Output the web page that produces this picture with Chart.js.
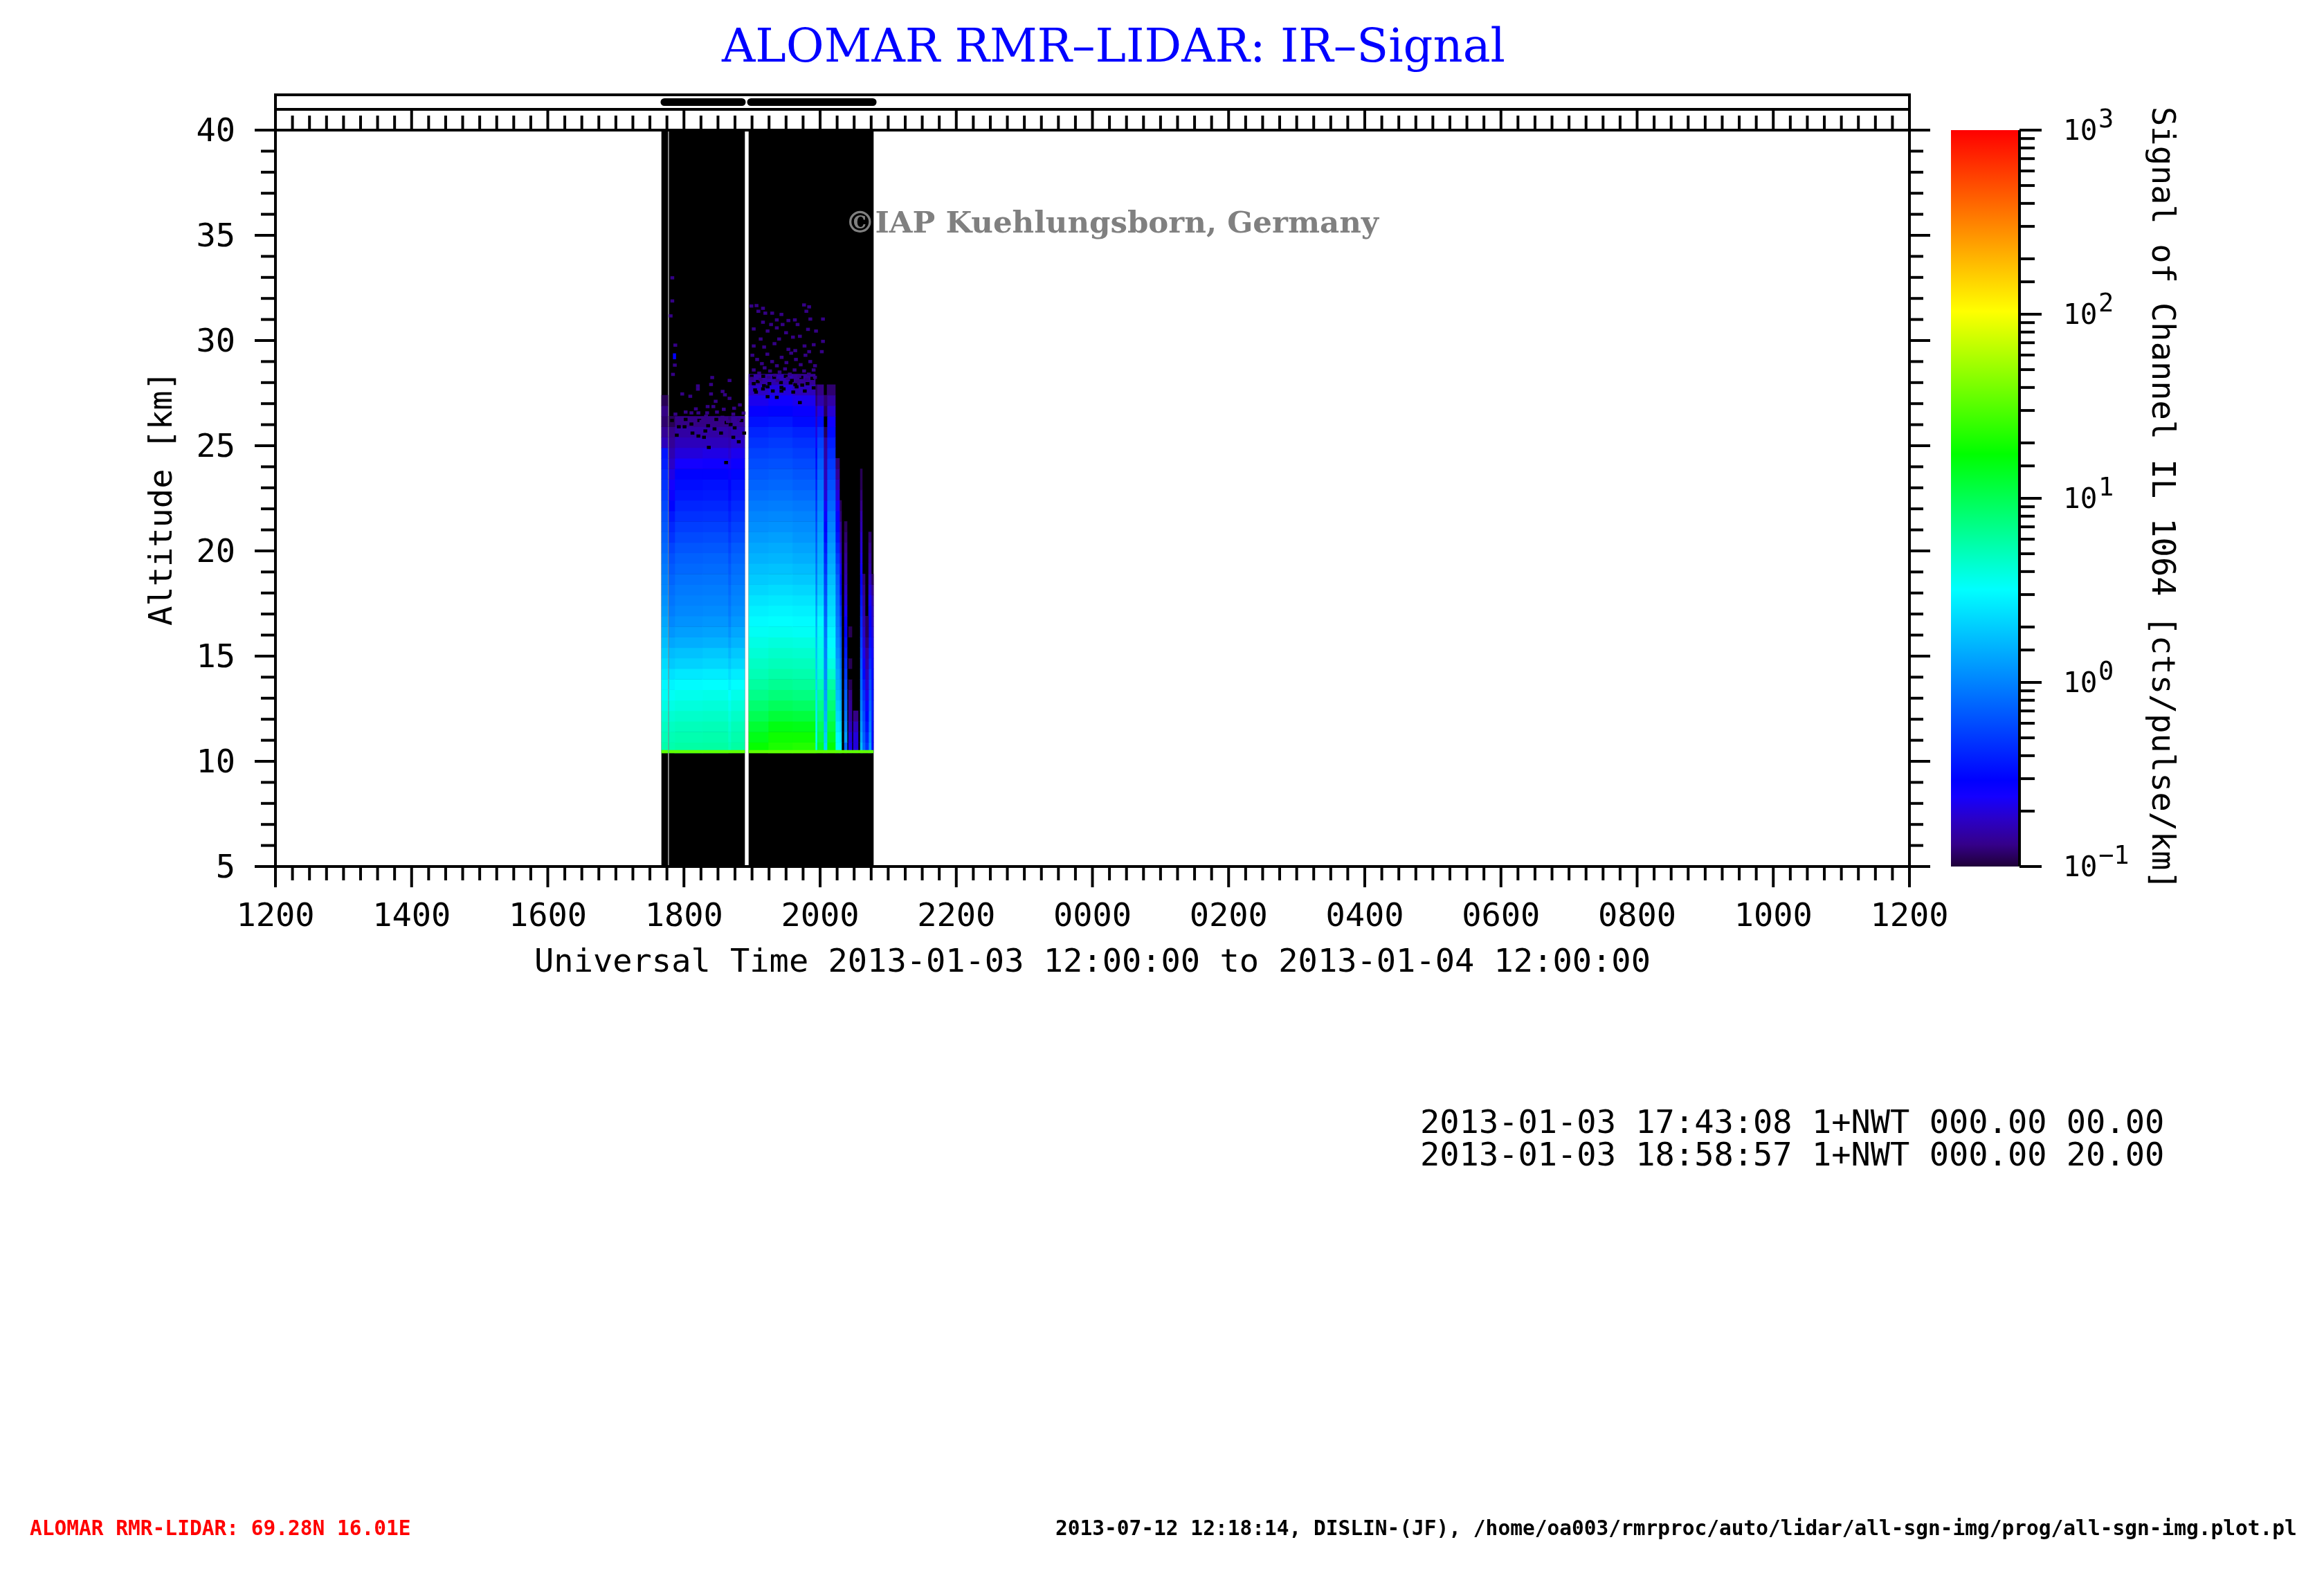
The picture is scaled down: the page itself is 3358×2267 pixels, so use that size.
<!DOCTYPE html>
<html>
<head>
<meta charset="utf-8">
<title>ALOMAR RMR-LIDAR: IR-Signal</title>
<script src="https://cdn.jsdelivr.net/npm/chart.js@4"></script>
<style>
  html, body { margin: 0; padding: 0; background: #fff; }
  #wrap { position: relative; width: 3358px; height: 2267px; }
  canvas { position: absolute; top: 0; display: block; }
</style>
</head>
<body>
<div id="wrap">
  <canvas id="mainChart" width="3358" height="2267" style="left:0"></canvas>
  <canvas id="barChart" width="568" height="2267" style="left:2790px"></canvas>
</div>
<script>
// tick labels
const timeTickLabels = ['1200','1400','1600','1800','2000','2200','0000','0200','0400','0600','0800','1000','1200'];
const colourExponents = ['\u22121','0','1','2','3'];

// altitude of each data row [km], lowest first
const altRows = [10.65,11.15,11.65,12.15,12.65,13.15,13.65,14.15,14.65,15.15,15.65,16.15,16.65,17.15,17.65,18.15,18.65,19.15,19.65,20.15,20.65,21.15,21.65,22.15,22.65,23.15,23.65,24.15,24.65,25.15,25.65,26.15,26.65,27.15,27.65,28.15,28.65,29.15,29.65,30.15,30.65,31.15,31.65,32.15];

// time columns [hours after 00 UT of 2013-01-03]
const columnStart = [17.672,17.781,17.865,18.272,18.648,18.689,18.953,19.238,19.593,19.929,19.954,20.051,20.102,20.224,20.285,20.356,20.417,20.488,20.590,20.620,20.661,20.712,20.752];
const columnEnd   = [17.765,17.865,18.272,18.648,18.689,18.892,19.238,19.593,19.929,19.954,20.051,20.102,20.224,20.285,20.315,20.397,20.468,20.559,20.620,20.661,20.712,20.752,20.783];

// signal per column, from the lowest row upwards [cts/pulse/km]
const sigL0 = [5.6,5.2,4.8,4.3,3.8,3.4,3,2.6,2.3,2,1.75,1.55,1.4,1.25,1.15,1.05,1,.92,.85,.78,.72,.67,.62,.57,.52,.47,.43,.38,.35,.17,.14,.12,.13,.11];
const sigL1 = [5.5,5.2,4.8,4.3,3.8,3.4,2.9,2.4,1.95,1.7,1.4,1.2,1.05,.95,.88,.82,.75,.68,.62,.55,.47,.42,.36,.3,.26,.24,.21,.18,.16,.14,.13,.11];
const sigL2 = [5.8,5.4,5,4.5,4,3.6,3.1,2.6,2.1,1.8,1.5,1.3,1.15,1.05,.98,.92,.85,.78,.72,.65,.58,.52,.46,.41,.36,.33,.3,.24,.2,.17,.15,.13];
const sigL3 = [5.9,5.5,5.1,4.6,4.1,3.7,3.2,2.7,2.2,1.9,1.55,1.35,1.2,1.08,1,.94,.87,.8,.74,.66,.6,.53,.47,.42,.37,.34,.3,.25,.21,.17,.15,.13];
const sigL4 = [5.2,4.8,4.4,4,3.6,3.2,2.8,2.3,1.9,1.6,1.35,1.15,1,.92,.86,.8,.74,.68,.62,.56,.5,.45,.4,.36,.32,.3,.27,.22,.19,.16,.14,.12];
const sigL5 = [5.9,5.5,5.1,4.6,4.1,3.7,3.2,2.7,2.2,1.9,1.6,1.4,1.22,1.1,1.02,.96,.88,.82,.75,.68,.6,.54,.48,.43,.38,.35,.31,.26,.22,.18,.16,.14];
const sigR1 = [18,15,12.5,10,8.3,7,6,5.2,4.7,4.2,3.8,3.4,3.1,2.8,2.5,2.2,1.95,1.75,1.55,1.4,1.25,1.12,1.02,.92,.82,.74,.67,.6,.54,.47,.41,.34,.28,.22,.18,.15];
const sigR2 = [21,19,15.5,12,9.5,7.8,6.6,5.7,5,4.5,4,3.5,3.2,2.9,2.6,2.3,2,1.8,1.6,1.45,1.3,1.15,1.05,.95,.85,.77,.7,.62,.56,.5,.44,.36,.3,.25,.2,.16];
const sigR3 = [22,19,15,11.5,9,7.4,6.3,5.5,4.9,4.4,3.9,3.4,3.1,2.8,2.5,2.2,1.9,1.7,1.5,1.35,1.2,1.1,1,.9,.8,.72,.65,.58,.52,.46,.4,.32,.27,.22,.17,.14];
const sigC178 = [3.4,3.2,3,2.8,2.6,2.4,2.2,2,1.9,1.8,1.7,1.6,1.45,1.3,1.15,1,.92,.85,.77,.7,.64,.58,.52,.47,.42,.39,.35,.32,.29,.25,.21,.18,.15,.12,.11];
const sigC180 = [13,11,9.5,8,7,6.2,5.2,4.4,4,3.8,3.6,3.4,3.1,2.7,2.3,2,1.8,1.65,1.5,1.4,1.3,1.2,1.1,1,.92,.85,.78,.7,.62,.55,.45,.33,.22,.16,.13];
const sigC190 = [2.2,2,1.8,1.6,1.45,1.3,1.2,1.1,1.05,1,.95,.88,.8,.72,.66,.6,.55,.48,.42,.37,.32,.29,.26,.23,.2,.18,.17,.16,.15,.14,.11,0,.11,.12];
const sigC195 = [17,14,11.5,9.5,8,7,5.8,4.6,3.9,3.4,3.1,2.9,2.6,2.3,2.15,1.95,1.75,1.55,1.4,1.25,1.12,1,.9,.78,.7,.62,.56,.5,.44,.38,.32,.25,.19,.15,.12];
const sigC208 = [3.4,3,2.6,2.2,1.95,1.7,1.55,1.45,1.3,1.15,1.05,.98,.92,.85,.8,.75,.7,.6,.5,.42,.35,.31,.27,.23,.2,.17,.14,.12];
const sigC214 = [2.8,2.4,2,1.7,1.45,1.25,1.1,.95,.85,.75,.68,.6,.52,.45,.38,.32,.27,.23,.2,.17,.15,.14,.12,.11];
const sigC220 = [.8,1.25,1.05,.9,.8,.72,.6,.5,.44,.38,.34,.3,.27,.23,.2,.18,.16,.15,.14,.13,.12,.11];
const sigS1 = [.22,.2,.17,.15,.14,.13,.11,0,.11,0,0,.11];
const sigS2 = [.2,.2,.17,.13];
const sigC243 = [1.7,1.4,1.2,1.05,.95,.85,.78,.72,.66,.6,.54,.48,.44,.4,.36,.32,.28,.24,.21,.19,.18,.16,.15,.13,.12,.11,.11];
const sigC246 = [.78,.7,.63,.58,.52,.46,.38,.31,.26,.22,.2,.18,.16,.15,.14,.13,.12];
const sigC250 = [.46,.4,.34,.3,.26,.22,.19,.17,.15,.14,.12,.11,.11];
const sigC255 = [1.25,1.1,.95,.85,.75,.68,.6,.52,.44,.38,.34,.31,.29,.27,.24,.2,.17,.15,.14,.13,.12];
const sigC259 = [.3,.3,.32,.34,.36,.34,.31,.28,.26,.24,.22,.2,.18,.17,.15,.13,.11];
const signalColumns = [sigL0,sigL1,sigL2,sigL3,sigL4,sigL5,sigR1,sigR2,sigR3,sigC178,sigC180,sigC190,sigC195,sigC208,sigC214,sigC220,sigS1,sigS2,sigC243,sigC246,sigC250,sigC255,sigC259];

// measured blocks (black = below 0.1) and the record bars above the plot
const blockStart = [17.672,17.781,18.953];
const blockEnd   = [17.765,18.892,20.783];
const recordStart = [17.662,18.933];
const recordEnd   = [18.902,20.824];
const bottomGateSignal = 34;

// single weak detections above the noise edge
const weakTime = [18.966,19.041,19.136,19.068,19.170,19.271,19.739,19.814,19.773,19.407,20.017,19.831,19.509,19.604,19.339,19.136,19.255,19.424,19.644,19.915,19.797,19.339,19.000,19.204,19.475,19.678,19.576,19.373,19.102,19.305,19.000,19.153,19.509,19.610,19.746,19.814,20.017,19.881,20.000,17.804,17.804,17.780,17.848,17.841,17.814,18.390,18.645,18.180,18.373,18.180,17.950,18.373,18.068,18.543,18.577,18.645,18.441,18.323,18.407,18.085,18.187,18.316,18.560,18.712,18.797,
    18.98,19.05,19.12,19.2,19.27,19.34,19.41,19.48,19.55,19.62,19.69,19.76,19.83,19.9,19.0,19.08,19.16,19.24,19.31,19.38,19.46,19.53,19.6,19.67,19.74,19.81,19.88,18.97,19.1,19.22,19.35,19.5,19.64,19.78,19.9,
    17.85,17.93,18.0,18.08,18.15,18.23,18.3,18.38,18.46,18.54,18.62,18.7,18.78,18.85];
const weakAlt  = [31.64,31.66,31.53,31.39,31.30,31.30,31.69,31.60,31.39,31.24,31.02,31.02,30.95,30.98,30.98,30.87,30.76,30.76,30.76,30.45,30.53,30.60,30.55,30.45,30.37,30.20,30.16,30.07,30.07,29.85,29.74,29.69,29.58,29.52,29.74,29.47,29.96,29.80,29.47,32.98,31.88,31.17,29.78,28.83,28.39,28.24,28.10,27.84,27.91,27.69,27.46,27.46,27.35,27.58,27.42,27.25,27.11,26.86,26.86,26.56,26.56,26.56,26.73,26.78,26.94,
    29.3,29.1,28.9,29.35,29.0,28.8,29.2,28.95,29.4,29.1,28.85,29.3,29.0,28.8,28.6,28.45,28.7,28.55,28.35,28.5,28.65,28.4,28.6,28.3,28.55,28.4,28.6,28.2,28.15,28.25,28.1,28.2,28.05,28.15,28.25,
    26.5,26.2,26.6,26.3,26.75,26.15,26.4,26.25,26.6,26.35,26.15,26.5,26.25,26.55];
const strongTime = [17.841];
const strongAlt  = [29.25];
// gaps inside the noisy top of the profiles
const gapTime = [19,19.204,19.407,19.61,19.136,19.339,19.542,19.712,19.034,19.407,19.678,19.204,18.187,18.34,18.594,18.78,17.984,18.424,18.085,18.661,18.289,
    18.97,19.06,19.14,19.23,19.3,19.4,19.47,19.56,19.63,19.7,19.79,19.86,19.02,19.15,19.28,19.44,19.58,19.75,19.88,
    17.8,17.9,18.0,18.1,18.2,18.33,18.45,18.52,18.6,18.72,18.82,17.87,18.27,18.7,18.86];
const gapAlt  = [27.95,27.8,27.6,27.9,27.7,27.3,27.99,27.88,27.55,27.77,27.05,27.33,25.46,24.92,24.2,25.19,25.9,25.8,26.03,26.01,25.7,
    28.3,28.05,28.3,27.95,28.25,28.0,28.3,28.1,27.8,28.25,27.95,28.2,27.65,27.85,27.6,27.7,27.55,27.6,27.75,
    26.2,25.9,26.25,25.6,26.2,25.95,26.25,25.6,26.1,25.85,26.2,25.5,25.4,25.4,25.6];

// colour table: position on the log axis (0..1) and rgb
const colourPos = [0,.03,.065,.095,.117,.376,.56,.754,1];
const colourRgb = [[31,0,56],[53,0,138],[42,0,200],[20,0,255],[0,0,255],[0,255,255],[0,255,0],[255,255,0],[255,0,0]];

function signalColor(v) {
    if (v < 0.1) return '#000000';
    const f = Math.min(1, (Math.log10(v) + 1) / 4);
    let i = 0;
    while (i < colourPos.length - 2 && f > colourPos[i + 1]) i++;
    const t = (f - colourPos[i]) / (colourPos[i + 1] - colourPos[i]);
    const c = colourRgb[i].map((a, k) => Math.round(a + (colourRgb[i + 1][k] - a) * t));
    return 'rgb(' + c.join(',') + ')';
}

const MONO = '"DejaVu Sans Mono"';
const LABEL_FONT = { family: 'DejaVu Sans Mono', size: 47 };
Chart.defaults.color = '#000';
Chart.defaults.animation = false;

const datasets = [];
// black backing of each measured block
datasets.push({
    label: 'blocks', order: 3, barThickness: 1064,
    data: blockStart.map((s, i) => ({ x: [s, blockEnd[i]], y: 22.5 })),
    backgroundColor: '#000000'
});
signalColumns.forEach((vals, i) => {
    datasets.push({
        label: 'column ' + i, order: 2, barThickness: 15.2,
        data: vals.map((v, k) => ({ x: [columnStart[i], columnEnd[i]], y: altRows[k] })),
        backgroundColor: vals.map(signalColor)
    });
});
datasets.push({
    label: 'lowest gate', order: 1, barThickness: 4,
    data: blockStart.map((s, i) => ({ x: [s, blockEnd[i]], y: 10.46 })),
    backgroundColor: signalColor(bottomGateSignal)
});
datasets.push({
    label: 'gaps', order: 1, barThickness: 4,
    data: gapTime.map((t, i) => ({ x: [t, t + 0.05], y: gapAlt[i] })),
    backgroundColor: '#000000'
});
datasets.push({
    label: 'weak', order: 0, barThickness: 4,
    data: weakTime.map((t, i) => ({ x: [t, t + 0.05], y: weakAlt[i] })),
    backgroundColor: signalColor(0.13)
});
datasets.push({
    label: 'strong', order: 0, barThickness: 8,
    data: strongTime.map((t, i) => ({ x: [t, t + 0.04], y: strongAlt[i] })),
    backgroundColor: signalColor(0.29)
});

function drawTick(ctx, x0, y0, x1, y1) {
    ctx.beginPath();
    ctx.moveTo(x0, y0);
    ctx.lineTo(x1, y1);
    ctx.stroke();
}

const frameAndNotes = {
    id: 'frameAndNotes',
    afterDraw(chart) {
        const { ctx, chartArea: a, scales: { x, y } } = chart;
        ctx.save();
        ctx.strokeStyle = '#000';
        ctx.lineWidth = 4;
        // plot frame and the band above it
        ctx.strokeRect(a.left, a.top, a.right - a.left, a.bottom - a.top);
        drawTick(ctx, a.left, a.top, a.left, 135);
        drawTick(ctx, a.right, a.top, a.right, 135);
        drawTick(ctx, a.left, 137, a.right, 137);
        drawTick(ctx, a.left, 158, a.right, 158);
        x.ticks.forEach(t => {
            const px = x.getPixelForValue(t.value);
            const big = t.value % 2 === 0;
            drawTick(ctx, px, a.bottom, px, a.bottom + (big ? 30 : 20));
            drawTick(ctx, px, a.top, px, a.top - (big ? 30 : 21));
        });
        y.ticks.forEach(t => {
            const py = y.getPixelForValue(t.value);
            const big = t.value % 5 === 0;
            drawTick(ctx, a.left, py, a.left - (big ? 30 : 21), py);
            drawTick(ctx, a.right, py, a.right + (big ? 30 : 20), py);
        });
        // record bars
        ctx.lineWidth = 11;
        ctx.lineCap = 'round';
        recordStart.forEach((s, i) => {
            drawTick(ctx, x.getPixelForValue(s) + 5, 147.5, x.getPixelForValue(recordEnd[i]) - 5, 147.5);
        });
        // free text
        const note = (text, px, py, font, color, align) => {
            ctx.font = font;
            ctx.fillStyle = color;
            ctx.textAlign = align || 'left';
            ctx.textBaseline = 'middle';
            ctx.fillText(text, px, py);
        };
        note('ALOMAR RMR\u2013LIDAR: IR\u2013Signal', 1609, 72, '67px "DejaVu Serif"', '#0000ff', 'center');
        note('\u00a9IAP Kuehlungsborn, Germany', 1221, 325, 'bold 43.5px "DejaVu Serif"', '#808080');
        note('2013-01-03 17:43:08 1+NWT 000.00 00.00', 2052, 1625, '47px ' + MONO, '#000');
        note('2013-01-03 18:58:57 1+NWT 000.00 20.00', 2052, 1672, '47px ' + MONO, '#000');
        note('ALOMAR RMR-LIDAR: 69.28N 16.01E', 43, 2210, 'bold 29.5px ' + MONO, '#ff0000');
        note('2013-07-12 12:18:14, DISLIN-(JF), /home/oa003/rmrproc/auto/lidar/all-sgn-img/prog/all-sgn-img.plot.pl', 1525, 2210, 'bold 29.5px ' + MONO, '#000');
        ctx.restore();
    }
};

new Chart(document.getElementById('mainChart'), {
    type: 'bar',
    data: { datasets },
    options: {
        indexAxis: 'y',
        responsive: false,
        devicePixelRatio: 1,
        grouped: false,
        inflateAmount: 0.3,
        barPercentage: 1,
        categoryPercentage: 1,
        borderWidth: 0,
        events: [],
        layout: { padding: { left: 208, right: 599, top: 188, bottom: 847 } },
        plugins: { legend: { display: false }, tooltip: { enabled: false }, title: { display: false } },
        scales: {
            x: {
                type: 'linear', min: 12, max: 36, position: 'bottom',
                grid: { display: false, drawTicks: false },
                border: { display: false },
                ticks: {
                    stepSize: 0.25, autoSkip: false, maxRotation: 0, minRotation: 0,
                    padding: 46, font: LABEL_FONT,
                    callback: v => (v % 2 === 0 ? timeTickLabels[(v - 12) / 2] : '')
                },
                title: {
                    display: true, font: LABEL_FONT, padding: 0,
                    text: 'Universal Time 2013-01-03 12:00:00 to 2013-01-04 12:00:00'
                },
                afterFit(s) { s.height = 168; s.paddingLeft = 0; s.paddingRight = 0; }
            },
            y: {
                type: 'linear', min: 5, max: 40, position: 'left', offset: false,
                grid: { display: false, drawTicks: false, offset: false },
                border: { display: false },
                ticks: {
                    stepSize: 1, autoSkip: false, padding: 58, labelOffset: 4, font: LABEL_FONT,
                    callback: v => (v % 5 === 0 ? String(v) : '')
                },
                title: { display: true, text: 'Altitude [km]', font: LABEL_FONT, padding: 0 },
                afterFit(s) { s.width = 190; s.paddingTop = 0; s.paddingBottom = 0; }
            }
        }
    },
    plugins: [frameAndNotes]
});

const isDecade = v => Math.abs(Math.log10(v) - Math.round(Math.log10(v))) < 1e-6;

const colourAxisTicks = {
    id: 'colourAxisTicks',
    afterDraw(chart) {
        const { ctx, chartArea: a, scales: { y } } = chart;
        ctx.save();
        ctx.strokeStyle = '#000';
        ctx.lineWidth = 4;
        drawTick(ctx, a.right + 2, a.top, a.right + 2, a.bottom);
        y.ticks.forEach(t => {
            const py = y.getPixelForValue(t.value);
            drawTick(ctx, a.right + 2, py, a.right + (isDecade(t.value) ? 34 : 24), py);
            if (isDecade(t.value)) {
                ctx.font = '37px ' + MONO;
                ctx.fillStyle = '#000';
                ctx.textAlign = 'left';
                ctx.textBaseline = 'middle';
                ctx.fillText(colourExponents[Math.round(Math.log10(t.value)) + 1], a.right + 116, py - 14);
            }
        });
        ctx.restore();
    }
};

new Chart(document.getElementById('barChart'), {
    type: 'bar',
    data: {
        labels: ['signal'],
        datasets: [{
            data: [[0.1, 1000]],
            backgroundColor(c) {
                const a = c.chart.chartArea;
                if (!a) return '#000';
                const g = c.chart.ctx.createLinearGradient(0, a.bottom, 0, a.top);
                colourPos.forEach((p, i) => g.addColorStop(p, 'rgb(' + colourRgb[i].join(',') + ')'));
                return g;
            }
        }]
    },
    options: {
        responsive: false,
        devicePixelRatio: 1,
        barPercentage: 1,
        categoryPercentage: 1,
        inflateAmount: 0,
        events: [],
        layout: { padding: { left: 29, right: 208, top: 188, bottom: 1015 } },
        plugins: { legend: { display: false }, tooltip: { enabled: false } },
        scales: {
            x: { display: false },
            y: {
                type: 'logarithmic', min: 0.1, max: 1000, position: 'right',
                grid: { display: false, drawTicks: false },
                border: { display: false },
                ticks: {
                    autoSkip: false, padding: 65, labelOffset: 3, font: { family: 'DejaVu Sans Mono', size: 41 },
                    callback: v => (isDecade(v) ? '10' : '')
                },
                title: {
                    display: true, font: LABEL_FONT, padding: 0,
                    text: 'Signal of Channel IL 1064 [cts/pulse/km]'
                },
                afterFit(s) { s.width = 234; s.paddingTop = 0; s.paddingBottom = 0; }
            }
        }
    },
    plugins: [colourAxisTicks]
});
</script>
</body>
</html>
